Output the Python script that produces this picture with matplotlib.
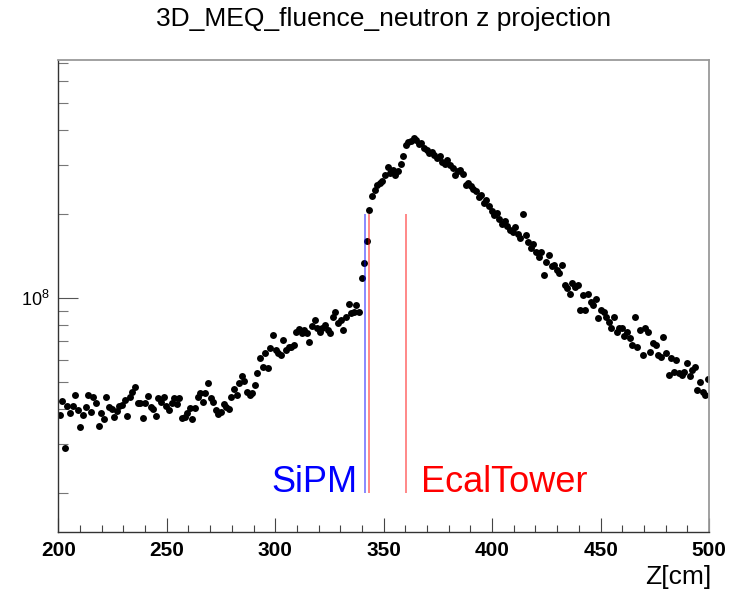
import numpy as np
import matplotlib
matplotlib.use("Agg")
import matplotlib.pyplot as plt
from matplotlib.ticker import LogLocator, NullFormatter, FixedLocator, MultipleLocator

plt.rcParams['font.family'] = ['Liberation Sans', 'DejaVu Sans']
plt.rcParams['mathtext.default'] = 'regular'

title = "3D_MEQ_fluence_neutron z projection"
x_label = "Z[cm]"
z_min, z_max, n_bins = 200.0, 500.0, 250

# fluence per bin, in units of 1e7
fluence_e7 = [
    3.81, 4.28, 2.90, 4.10, 3.88, 4.10, 4.49, 3.97, 3.46, 3.81,
    4.08, 4.50, 3.92, 4.44, 4.20, 3.48, 3.88, 3.69, 4.42, 4.06,
    4.00, 3.75, 3.95, 4.10, 4.14, 4.32, 3.78, 4.42, 4.62, 4.79,
    4.20, 4.20, 3.71, 4.22, 4.47, 4.08, 3.99, 3.79, 4.38, 4.26,
    4.42, 4.12, 3.97, 4.20, 4.38, 4.17, 4.40, 3.73, 3.75, 3.88,
    4.03, 3.68, 4.03, 4.42, 4.56, 4.26, 4.59, 4.95, 4.38, 4.26,
    3.97, 3.84, 3.92, 4.17, 4.08, 3.99, 4.42, 4.74, 4.50, 4.95,
    5.28, 5.06, 4.62, 4.50, 4.56, 4.89, 5.41, 6.09, 5.66, 6.35,
    5.61, 6.62, 7.38, 6.52, 6.35, 6.26, 7.09, 6.52, 6.70, 6.70,
    6.80, 7.59, 7.74, 7.49, 7.69, 7.49, 6.99, 7.98, 8.36, 7.80,
    7.59, 7.80, 8.02, 7.69, 7.49, 8.59, 8.95, 8.13, 8.36, 7.69,
    8.59, 9.51, 8.83, 8.95, 9.46, 8.95,
    11.8, 13.4, 16.1, 20.7,
    23.2, 24.5, 25.5, 26.0, 26.3, 27.7, 29.5, 28.2, 28.9, 27.7,
    28.6, 30.4, 32.5, 35.5, 36.3, 36.6, 37.5, 37.0, 35.8, 36.0,
    34.5, 34.0, 33.2, 33.6, 32.6, 31.9, 32.3, 30.8, 30.2, 31.4,
    30.1, 29.4, 27.6, 28.6, 28.9, 28.0, 25.5, 26.0, 25.2,
    24.6, 24.2, 23.0, 23.5, 22.0, 22.5, 21.5, 20.6, 19.9, 20.3,
    19.3, 18.5, 19.0, 18.1, 17.6, 17.3, 18.0, 17.0, 16.4, 20.0,
    16.9, 15.9, 15.2, 15.7, 14.6, 14.1, 14.6, 12.1, 13.5, 14.3,
    13.0, 13.2, 12.6, 12.3, 13.2, 11.2, 10.9, 10.4, 11.3, 11.0,
    11.2, 9.08, 10.3, 9.08, 10.4, 9.72, 9.46, 9.90, 8.47, 9.08,
    8.95, 8.59, 8.24, 7.80, 8.59, 7.59, 7.80, 7.80, 7.30, 7.59,
    7.18, 6.80, 8.59, 6.70, 7.69, 6.26, 7.80, 7.59, 6.43, 6.89,
    6.80, 6.26, 6.17, 7.28, 6.35, 5.31, 6.09, 5.46, 6.01, 5.40,
    5.31, 5.46, 5.85, 5.24, 5.53, 5.68, 4.69, 5.02, 4.62, 4.50,
    5.13,
]

# marker lines (position in cm) and their range
line_z = [341.3, 343.3, 360.5]
line_colors = ['blue', 'red', 'red']
line_y_range = [2e7, 2e8]
annotations = [("SiPM", 337.8, 'right', 'blue'), ("EcalTower", 367.2, 'left', 'red')]

y_min, y_max = 1.454e7, 7.16e8

edges = np.linspace(z_min, z_max, n_bins + 1)
centers = 0.5 * (edges[:-1] + edges[1:])
values = np.array(fluence_e7) * 1e7

fig = plt.figure(figsize=(7.53, 5.92), dpi=100)
ax = fig.add_axes([0.0774, 0.1019, 0.8642, 0.7968])

ax.plot(centers, values, 'o', color='black', markersize=5.0, markeredgewidth=0)

for z, c in zip(line_z, line_colors):
    ax.vlines(z, line_y_range[0], line_y_range[1], colors=c, linewidth=1.3, alpha=0.5)

for txt, z, ha, c in annotations:
    ax.text(z, 0.0842, txt, transform=ax.get_xaxis_transform(), ha=ha, va='baseline',
            color=c, fontsize=26)

ax.set_yscale('log')
ax.set_xlim(z_min, z_max)
ax.set_ylim(y_min, y_max)

ax.xaxis.set_major_locator(MultipleLocator(50))
ax.xaxis.set_minor_locator(MultipleLocator(10))
ax.yaxis.set_major_locator(FixedLocator([1e8]))
ax.yaxis.set_minor_locator(LogLocator(base=10, subs=np.arange(2, 10)))
ax.yaxis.set_minor_formatter(NullFormatter())
ax.set_yticklabels([r'$10^{8}$'])

for lbl in ax.get_xticklabels():
    lbl.set_fontweight('bold')
ax.tick_params(axis='x', which='major', direction='in', length=10, width=0.8,
               color='#444444', labelsize=15, pad=7)
ax.tick_params(axis='x', which='minor', direction='in', length=5, width=0.8, color='#444444')
ax.tick_params(axis='y', which='major', direction='in', length=14.4, width=0.8,
               color='#555555', labelsize=13, pad=6)
ax.tick_params(axis='y', which='minor', direction='in', length=7.2, width=0.8, color='#777777')
ax.tick_params(top=False, right=False)

for s in ['left', 'bottom']:
    ax.spines[s].set_color('#333333')
    ax.spines[s].set_linewidth(1.0)
for s in ['top', 'right']:
    ax.spines[s].set_color('#9a9a9a')
    ax.spines[s].set_linewidth(1.3)

fig.text(383.7 / 753, 1 - 19 / 592, title, ha='center', va='center', fontsize=19)
fig.text(711 / 753, 1 - 577 / 592, x_label, ha='right', va='center', fontsize=19)

fig.savefig('out.png', dpi=100)
